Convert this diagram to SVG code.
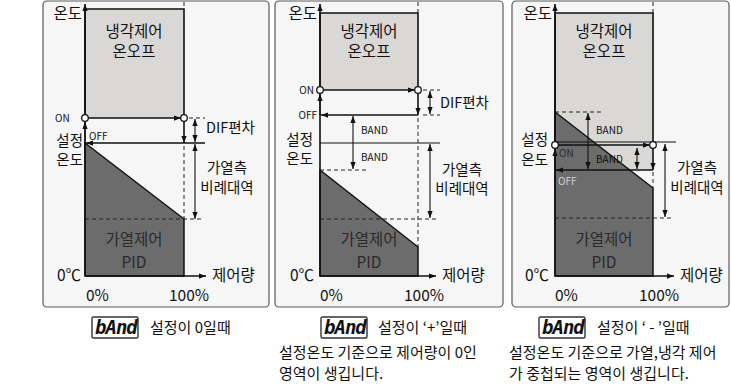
<svg xmlns="http://www.w3.org/2000/svg" width="731" height="389" viewBox="0 0 731 389">
<defs>
<marker id="ah" viewBox="0 0 8 6" refX="8" refY="3" markerWidth="7" markerHeight="6" markerUnits="userSpaceOnUse" orient="auto-start-reverse"><path d="M0,0 L8,3 L0,6 z" fill="#111"/></marker>
<style>
text{font-family:"Noto Sans CJK KR","Noto Sans",sans-serif;fill:#111}
.frame{fill:#f6f6f6;stroke:#5a5a5a;stroke-width:1.2}
.light{fill:#d9d8d6;stroke:none}
.dark{fill:#6c6c6c;stroke:#111;stroke-width:1.5;stroke-linejoin:miter}
.thick{fill:none;stroke:#111;stroke-width:1.6}
.ln{fill:none;stroke:#111;stroke-width:1.1}
.ar{fill:none;stroke:#111;stroke-width:1.6;marker-end:url(#ah)}
.ar2{fill:none;stroke:#111;stroke-width:1.1;marker-start:url(#ah);marker-end:url(#ah)}
.ar1{fill:none;stroke:#111;stroke-width:1.1;marker-end:url(#ah)}
.dash{fill:none;stroke:#222;stroke-width:1;stroke-dasharray:4 3}
.circ{fill:#fff;stroke:#111;stroke-width:1.3}
.t15{font-size:15.5px}
.t14{font-size:14.5px}
.t10{font-size:10px}
.mid{text-anchor:middle}
.end{text-anchor:end}
.dk{fill:#2a2a2a}
.seg{font-family:"DejaVu Sans Mono",monospace;font-size:19px;font-weight:bold;font-style:italic;fill:#111;letter-spacing:-1px}
.segbox{fill:#fff;stroke:#333;stroke-width:1.4}
.cap{font-size:15px}
</style>
</defs>

<g id="panel1">
<rect class="frame" x="43" y="1" width="226" height="306" rx="4"/>
<rect class="light" x="85" y="9" width="99" height="109"/>
<polygon class="dark" points="85,143 184,219 184,276 85,276"/>
<path class="thick" d="M85,118 V9 H184 V118"/>
<line class="dash" x1="184" y1="2" x2="184" y2="9"/>
<line class="dash" x1="184" y1="146" x2="184" y2="219"/>
<line class="dash" x1="85" y1="219" x2="204" y2="219"/>
<line class="dash" x1="189" y1="118" x2="205" y2="118"/>
<text class="t15 end" x="82" y="19">온도</text>
<text class="t15 mid" x="134" y="37">냉각제어</text>
<text class="t15 mid" x="134" y="57">온오프</text>
<text class="t10" x="55" y="122">ON</text>
<text class="t10" x="89" y="140">OFF</text>
<text class="t14 end" x="83" y="146">설정</text>
<text class="t14 end" x="83" y="165">온도</text>
<text class="t14" x="206" y="133">DIF편차</text>
<text class="t14 mid" x="227" y="173">가열측</text>
<text class="t14 mid" x="227" y="193">비례대역</text>
<text class="t15 mid dk" x="134" y="245">가열제어</text>
<text class="t15 mid dk" x="134" y="268">PID</text>
<text class="t15 end" x="81" y="281">0℃</text>
<text class="t15" x="212" y="281">제어량</text>
<text class="t15" x="86" y="301">0%</text>
<text class="t15" x="169" y="301">100%</text>
</g>

<g id="panel2">
<rect class="frame" x="275" y="1" width="228" height="306" rx="4"/>
<rect class="light" x="320" y="13" width="98" height="77"/>
<polygon class="dark" points="320,170 418,247 418,276 320,276"/>
<path class="thick" d="M320,90 V13 H418 V90"/>
<line class="dash" x1="418" y1="2" x2="418" y2="13"/>
<line class="dash" x1="418" y1="118" x2="418" y2="247"/>
<line class="dash" x1="320" y1="170" x2="368" y2="170"/>
<line class="dash" x1="320" y1="219" x2="439" y2="219"/>
<line class="dash" x1="423" y1="90" x2="440" y2="90"/>
<line class="dash" x1="423" y1="115" x2="440" y2="115"/>
<line class="ln" x1="320" y1="143" x2="440" y2="143"/>
<text class="t15 end" x="317" y="19">온도</text>
<text class="t15 mid" x="369" y="37">냉각제어</text>
<text class="t15 mid" x="369" y="57">온오프</text>
<text class="t10 end" x="314" y="94">ON</text>
<text class="t10 end" x="317" y="119">OFF</text>
<text class="t10" x="361" y="134">BAND</text>
<text class="t10" x="361" y="161">BAND</text>
<text class="t14 end" x="313" y="145">설정</text>
<text class="t14 end" x="313" y="164">온도</text>
<text class="t14" x="440" y="108">DIF편차</text>
<text class="t14 mid" x="462" y="175">가열측</text>
<text class="t14 mid" x="462" y="194">비례대역</text>
<text class="t15 mid dk" x="369" y="245">가열제어</text>
<text class="t15 mid dk" x="369" y="268">PID</text>
<text class="t15 end" x="314" y="281">0℃</text>
<text class="t15" x="442" y="281">제어량</text>
<text class="t15" x="320" y="301">0%</text>
<text class="t15" x="404" y="301">100%</text>
</g>

<g id="panel3">
<rect class="frame" x="512" y="1" width="217" height="306" rx="4"/>
<rect class="light" x="555" y="13" width="98" height="157"/>
<polygon class="dark" points="555,112 653,188 653,276 555,276"/>
<path class="thick" d="M555,145 V13 H653 V145"/>
<line class="dash" x1="653" y1="2" x2="653" y2="13"/>
<line class="dash" x1="653" y1="172" x2="653" y2="188"/>
<line class="dash" x1="555" y1="112" x2="601" y2="112"/>
<line class="dash" x1="555" y1="218" x2="673" y2="218"/>
<line class="ln" x1="555" y1="142" x2="676" y2="142"/>
<text class="t15 end" x="552" y="19">온도</text>
<text class="t15 mid" x="604" y="37">냉각제어</text>
<text class="t15 mid" x="604" y="57">온오프</text>
<text class="t10 dk" x="559" y="157">ON</text>
<text class="t10" x="558" y="185" style="fill:#d4d4d4">OFF</text>
<text class="t10" x="596" y="134">BAND</text>
<text class="t10" x="596" y="163">BAND</text>
<text class="t14 end" x="548" y="145">설정</text>
<text class="t14 end" x="548" y="165">온도</text>
<text class="t14 mid" x="697" y="173">가열측</text>
<text class="t14 mid" x="697" y="193">비례대역</text>
<text class="t15 mid dk" x="604" y="245">가열제어</text>
<text class="t15 mid dk" x="604" y="268">PID</text>
<text class="t15 end" x="549" y="281">0℃</text>
<text class="t15" x="680" y="281">제어량</text>
<text class="t15" x="555" y="301">0%</text>
<text class="t15" x="639" y="301">100%</text>
</g>

<g id="connectors">
<line class="ar" x1="85" y1="276" x2="85" y2="4"/>
<line class="ar" x1="85" y1="276" x2="206" y2="276"/>
<line class="ar" x1="88" y1="118" x2="181" y2="118"/>
<line class="ar" x1="184" y1="121" x2="184" y2="143"/>
<line class="ar" x1="205" y1="143" x2="86" y2="143"/>
<line class="ar1" x1="85" y1="143" x2="85" y2="122"/>
<line class="ar2" x1="195" y1="119" x2="195" y2="142"/>
<line class="ar2" x1="195" y1="144" x2="195" y2="219"/>
<circle class="circ" cx="85" cy="118" r="3.3"/>
<circle class="circ" cx="184" cy="118" r="3.3"/>
<line class="ar" x1="320" y1="276" x2="320" y2="4"/>
<line class="ar" x1="320" y1="276" x2="436" y2="276"/>
<line class="ar" x1="323" y1="90" x2="415" y2="90"/>
<line class="ar" x1="418" y1="93" x2="418" y2="115"/>
<line class="ar" x1="418" y1="115" x2="321" y2="115"/>
<line class="ar1" x1="320" y1="115" x2="320" y2="94"/>
<line class="ar2" x1="430" y1="91" x2="430" y2="114"/>
<line class="ar2" x1="430" y1="144" x2="430" y2="218"/>
<line class="ar2" x1="353" y1="116" x2="353" y2="169"/>
<circle class="circ" cx="320" cy="90" r="3.3"/>
<circle class="circ" cx="418" cy="90" r="3.3"/>
<line class="ar" x1="555" y1="276" x2="555" y2="4"/>
<line class="ar" x1="555" y1="276" x2="674" y2="276"/>
<line class="ar" x1="558" y1="145" x2="650" y2="145"/>
<line class="ar" x1="653" y1="148" x2="653" y2="170"/>
<line class="ar" x1="653" y1="170" x2="556" y2="170"/>
<line class="ar1" x1="555" y1="170" x2="555" y2="149"/>
<line class="ar2" x1="588" y1="113" x2="588" y2="169"/>
<line class="ar2" x1="637" y1="148" x2="637" y2="169"/>
<line class="ar2" x1="665" y1="144" x2="665" y2="217"/>
<circle class="circ" cx="555" cy="145" r="3.3"/>
<circle class="circ" cx="653" cy="145" r="3.3"/>
</g>

<g id="caption1">
<rect class="segbox" x="92" y="317" width="46" height="21" rx="1.5"/>
<text class="seg" x="95" y="334">bAnd</text>
<text class="cap" x="150" y="333">설정이 0일때</text>
</g>
<g id="caption2">
<rect class="segbox" x="321" y="317" width="46" height="21" rx="1.5"/>
<text class="seg" x="324" y="334">bAnd</text>
<text class="cap" x="378" y="333">설정이 ‘+’일때</text>
<text class="cap" x="279" y="358">설정온도 기준으로 제어량이 0인</text>
<text class="cap" x="279" y="379">영역이 생깁니다.</text>
</g>
<g id="caption3">
<rect class="segbox" x="539" y="317" width="46" height="21" rx="1.5"/>
<text class="seg" x="542" y="334">bAnd</text>
<text class="cap" x="597" y="333">설정이 ‘ - ’일때</text>
<text class="cap" x="509" y="358">설정온도 기준으로 가열,냉각 제어</text>
<text class="cap" x="509" y="379">가 중첩되는 영역이 생깁니다.</text>
</g>
</svg>
